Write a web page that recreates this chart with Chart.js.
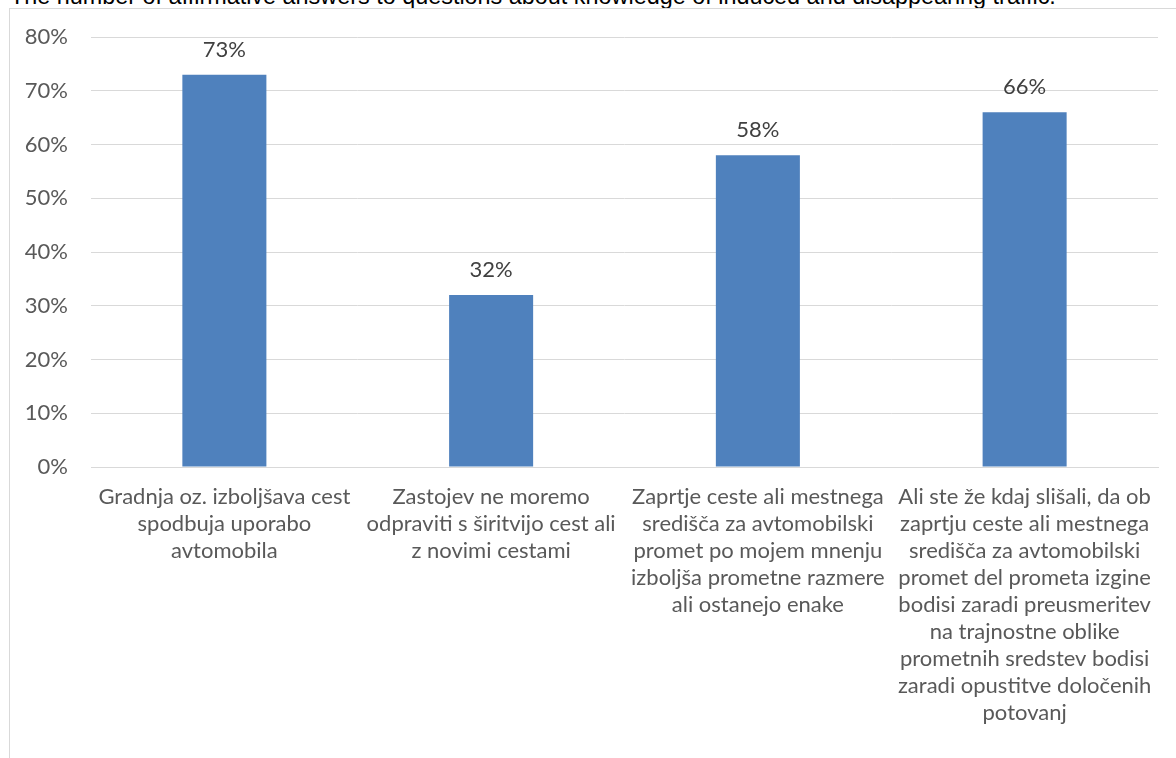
<!DOCTYPE html>
<html>
<head>
<meta charset="utf-8">
<script src="https://cdn.jsdelivr.net/npm/chart.js@4"></script>
<style>
  html, body { margin: 0; padding: 0; background: #fff; overflow: hidden; }
  body { width: 1176px; height: 758px; position: relative; }
  #title {
    position: absolute; left: 10px; top: -15px;
    font: 23.4px "Liberation Sans", Arial, sans-serif; line-height: 23.4px;
    color: #000; white-space: nowrap;
  }
  #frame {
    position: absolute; left: 9px; top: 8px; width: 1200px; height: 800px;
    border-left: 1px solid #d9d9d9; border-top: 1px solid #d9d9d9;
  }
  #chart { position: absolute; left: 0; top: 0; }
</style>
</head>
<body>
<div id="title">The number of affirmative answers to questions about knowledge of induced and disappearing traffic.</div>
<div id="frame"><canvas id="chart" width="1166" height="749"></canvas></div>
<script>
// Survey questions (each entry is the wrapped label lines)
const categories = [
  ["Gradnja oz. izboljšava cest", "spodbuja uporabo", "avtomobila"],
  ["Zastojev ne moremo", "odpraviti s širitvijo cest ali", "z novimi cestami"],
  ["Zaprtje ceste ali mestnega", "središča za avtomobilski", "promet po mojem mnenju", "izboljša prometne razmere", "ali ostanejo enake"],
  ["Ali ste že kdaj slišali, da ob", "zaprtju ceste ali mestnega", "središča za avtomobilski", "promet del prometa izgine", "bodisi zaradi preusmeritev", "na trajnostne oblike", "prometnih sredstev bodisi", "zaradi opustitve določenih", "potovanj"]
];
// Share of affirmative answers, in percent
const affirmative = [73, 32, 58, 66];
// Value axis range and step
const yMin = 0, yMax = 80, yStep = 10;

const FONT = "Lato, 'Open Sans', sans-serif";

// Writes the percentage above every bar
const valueLabels = {
  id: 'valueLabels',
  afterDatasetsDraw(chart) {
    const ctx = chart.ctx;
    ctx.save();
    ctx.font = "22px " + FONT;
    ctx.fillStyle = "#404040";
    ctx.textAlign = "center";
    ctx.textBaseline = "middle";
    chart.data.datasets.forEach((ds, di) => {
      chart.getDatasetMeta(di).data.forEach((bar, i) => {
        ctx.fillText(ds.data[i] + "%", bar.x, bar.y - 25);
      });
    });
    ctx.restore();
  }
};

new Chart(document.getElementById('chart'), {
  type: 'bar',
  data: {
    labels: categories,
    datasets: [{
      data: affirmative,
      backgroundColor: '#4f81bd',
      borderWidth: 0,
      categoryPercentage: 1,
      barPercentage: 0.315
    }]
  },
  options: {
    responsive: false,
    animation: false,
    devicePixelRatio: 1,
    layout: { padding: { top: 28, right: 18, left: 0, bottom: 0 } },
    plugins: { legend: { display: false }, tooltip: { enabled: false } },
    scales: {
      x: {
        grid: { display: false, drawTicks: false },
        border: { display: true, color: '#d9d9d9', width: 1 },
        ticks: {
          color: '#595959', padding: 16, maxRotation: 0, autoSkip: false,
          font: { family: FONT, size: 22, lineHeight: 1.23 }
        },
        afterFit(scale) {
          scale.height = 291;
          scale.paddingLeft = 0; scale.paddingRight = 0;
          scale.paddingTop = 0; scale.paddingBottom = 0;
        }
      },
      y: {
        min: yMin, max: yMax,
        grid: { color: '#d9d9d9', lineWidth: 1, drawTicks: false },
        border: { display: false },
        ticks: {
          stepSize: yStep, color: '#595959', padding: 23,
          font: { family: FONT, size: 22 },
          callback: v => v + '%'
        },
        afterFit(scale) {
          scale.width = 81;
          scale.paddingTop = 0; scale.paddingBottom = 0;
          scale.paddingLeft = 0; scale.paddingRight = 0;
        }
      }
    }
  },
  plugins: [valueLabels]
});
</script>
</body>
</html>
